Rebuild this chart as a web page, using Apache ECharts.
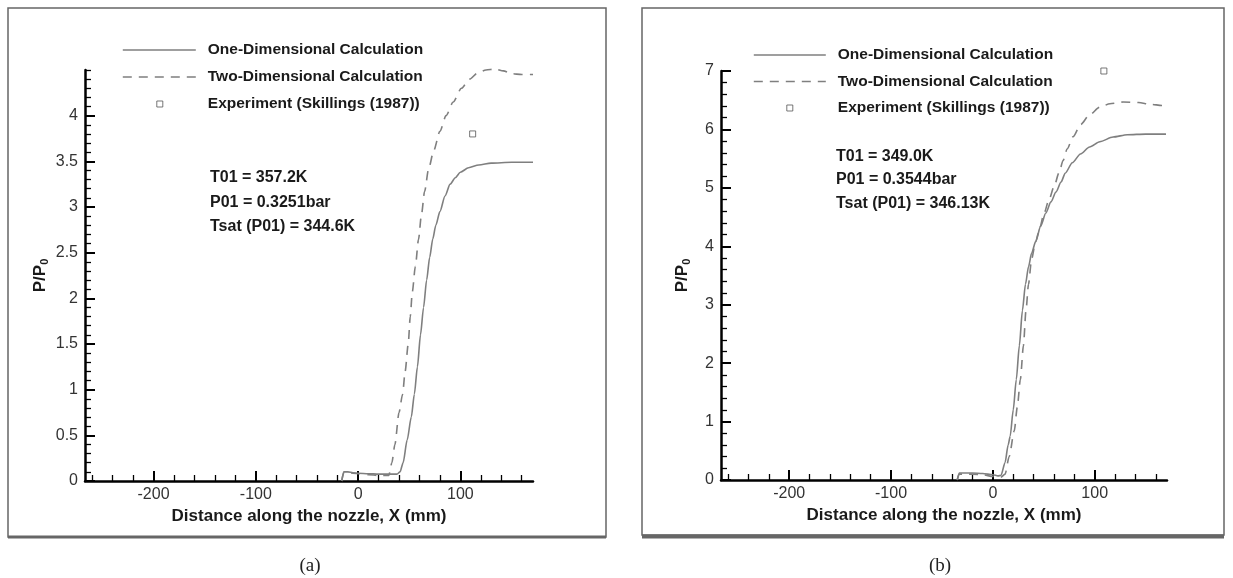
<!DOCTYPE html>
<html><head><meta charset="utf-8">
<script src="https://cdn.jsdelivr.net/npm/echarts@6/dist/echarts.min.js"></script>
<style>html,body{margin:0;padding:0;background:#fff}#c{width:1233px;height:578px}</style>
</head><body><div id="c"></div>
<script>
// ---------- data ----------
const nameOne = 'One-Dimensional Calculation';
const nameTwo = 'Two-Dimensional Calculation';
const nameExp = 'Experiment (Skillings (1987))';

// panel (a)
const xA1 = [-16,-14,-10,-5,0,10,20,30,38,41,44,48,52,55,58,61,64,67,70,73,76,80,85,90,95,100,108,118,130,150,171];
const yA1 = [0,0.1,0.1,0.09,0.085,0.08,0.075,0.075,0.075,0.1,0.2,0.45,0.7,0.95,1.25,1.6,1.9,2.2,2.45,2.65,2.8,2.95,3.12,3.25,3.32,3.38,3.43,3.46,3.48,3.49,3.49];
const xA2 = [-16,-14,-10,0,10,20,28,30,33,36,40,43.5,46,49,51,53,56,59,62,65,69,74,80,86,93,101,109,117,125,134,142,150,160,171];
const yA2 = [0,0.09,0.09,0.08,0.07,0.06,0.06,0.06,0.2,0.4,0.75,0.95,1.2,1.5,1.8,2.07,2.35,2.64,2.92,3.17,3.42,3.62,3.83,4.0,4.15,4.3,4.4,4.47,4.5,4.51,4.49,4.46,4.45,4.45];
const expAx = [112];
const expAy = [3.8];

// panel (b)
const xB1 = [-35,-33,-20,-10,0,5,8,12,15,17,20,23,26,29,32,35,38,42,47,52,57,62,67,71,78,86,95,105,118,132,150,170];
const yB1 = [0,0.12,0.12,0.11,0.09,0.07,0.08,0.3,0.6,0.75,1.2,1.72,2.3,2.9,3.35,3.65,3.88,4.08,4.35,4.57,4.76,4.93,5.1,5.25,5.43,5.58,5.7,5.79,5.87,5.91,5.92,5.92];
const xB2 = [-35,-33,-20,-10,0,8,12,16,21,24,27,30,32.5,35,38,42,46,50,55,60,65,69,73,79,86,95,105,115,128,143,155,166,170];
const yB2 = [0,0.1,0.1,0.09,0.06,0.05,0.1,0.4,0.84,1.25,1.72,2.3,2.9,3.35,3.78,4.08,4.31,4.55,4.79,5.02,5.26,5.47,5.67,5.88,6.08,6.25,6.38,6.44,6.47,6.46,6.43,6.41,6.41];
const expBx = [109];
const expBy = [7.0];

// axes / ticks
const xRange = [-267, 171];
const xTicksMajor = [-200, -100, 0, 100];
const xTicksMinor = [-260,-240,-220,-180,-160,-140,-120,-80,-60,-40,-20,20,40,60,80,120,140,160];
const yRangeA = [0, 4.5];
const yTicksMajorA = [0, 0.5, 1, 1.5, 2, 2.5, 3, 3.5, 4];
const yRangeB = [0, 7];
const yTicksMajorB = [0, 1, 2, 3, 4, 5, 6, 7];
const yMinorStepA = 0.1;
const yMinorStepB = 0.2;

const annotA = ['T01 = 357.2K', 'P01 = 0.3251bar', 'Tsat (P01) = 344.6K'];
const annotB = ['T01 = 349.0K', 'P01 = 0.3544bar', 'Tsat (P01) = 346.13K'];
const xTitle = 'Distance along the nozzle, X (mm)';
const yTitle = 'P/P{s|0}';
const captions = ['(a)', '(b)'];

// ---------- helpers ----------
function minorTicks(range, step, majors) {
  const out = [];
  const n = Math.round((range[1] - range[0]) / step);
  for (let i = 0; i <= n; i++) {
    const v = +(range[0] + i * step).toFixed(4);
    if (!majors.some(m => Math.abs(m - v) < 1e-6)) out.push(v);
  }
  return out;
}
const yTicksMinorA = minorTicks(yRangeA, yMinorStepA, yTicksMajorA);
const yTicksMinorB = minorTicks(yRangeB, yMinorStepB, yTicksMajorB);
const zip = (xs, ys) => xs.map((x, i) => [x, ys[i]]);

const FONT = 'Liberation Sans';
const CURVE = '#7f7f7f';
const DASH = [9, 7];

function xAxes(grid) {
  return [{
    type: 'value', gridIndex: grid, position: 'bottom', min: xRange[0], max: xRange[1],
    name: xTitle, nameLocation: 'middle', nameGap: 23,
    nameTextStyle: {fontFamily: FONT, fontWeight: 'bold', fontSize: 17, color: '#1a1a1a'},
    axisLine: {show: true, onZero: false, lineStyle: {color: '#000', width: 2.5}},
    axisTick: {show: true, inside: true, length: 10, customValues: xTicksMajor, lineStyle: {color: '#000', width: 2}},
    axisLabel: {show: true, margin: 6, customValues: xTicksMajor, fontFamily: FONT, fontSize: 16, color: '#333'},
    splitLine: {show: false}
  }, {
    type: 'value', gridIndex: grid, position: 'bottom', min: xRange[0], max: xRange[1],
    axisLine: {show: false, onZero: false},
    axisTick: {show: true, inside: true, length: 6, customValues: xTicksMinor, lineStyle: {color: '#000', width: 1.3}},
    axisLabel: {show: false}, splitLine: {show: false}
  }];
}
function yAxes(grid, range, majors, minors, gap) {
  return [{
    type: 'value', gridIndex: grid, position: 'left', min: range[0], max: range[1],
    name: yTitle, nameLocation: 'middle', nameGap: gap,
    nameTextStyle: {fontFamily: FONT, fontWeight: 'bold', fontSize: 17, color: '#1a1a1a',
      rich: {s: {fontFamily: FONT, fontWeight: 'bold', fontSize: 11, color: '#1a1a1a', padding: [9, 0, 0, 0]}}},
    axisLine: {show: true, onZero: false, lineStyle: {color: '#000', width: 2.5}},
    axisTick: {show: true, inside: true, length: 10, customValues: majors, lineStyle: {color: '#000', width: 2}},
    axisLabel: {show: true, margin: 7, customValues: majors, fontFamily: FONT, fontSize: 16, color: '#333'},
    splitLine: {show: false}
  }, {
    type: 'value', gridIndex: grid, position: 'left', min: range[0], max: range[1],
    axisLine: {show: false, onZero: false},
    axisTick: {show: true, inside: true, length: 6, customValues: minors, lineStyle: {color: '#000', width: 1.3}},
    axisLabel: {show: false}, splitLine: {show: false}
  }];
}
function seriesFor(xi, yi, d1, d2, de) {
  return [{
    type: 'line', name: nameOne, xAxisIndex: xi, yAxisIndex: yi, data: d1,
    symbol: 'none', smooth: 0.25, smoothMonotone: 'x', clip: false,
    lineStyle: {color: CURVE, width: 1.6}, itemStyle: {color: CURVE}
  }, {
    type: 'line', name: nameTwo, xAxisIndex: xi, yAxisIndex: yi, data: d2,
    symbol: 'none', smooth: 0.25, smoothMonotone: 'x', clip: false,
    lineStyle: {color: CURVE, width: 1.6, type: DASH}, itemStyle: {color: CURVE}
  }, {
    type: 'scatter', name: nameExp, xAxisIndex: xi, yAxisIndex: yi, data: de,
    symbol: 'rect', symbolSize: 6, clip: false,
    itemStyle: {color: '#fff', borderColor: '#555', borderWidth: 1}
  }];
}
function legendFor(left, top, w, gap) {
  const c = Math.round(w / 2) - 3;
  return {
    left: left, top: top, orient: 'vertical', padding: 0, selectedMode: false,
    itemWidth: w, itemHeight: 14, itemGap: gap,
    lineStyle: {width: 1.6},
    textStyle: {fontFamily: FONT, fontWeight: 'bold', fontSize: 15.5, color: '#1a1a1a', padding: [0, 0, 0, 7]},
    data: [
      {name: nameOne, itemStyle: {opacity: 0}},
      {name: nameTwo, itemStyle: {opacity: 0}},
      {name: nameExp, icon: 'path://M0,0M' + w + ',14M' + c + ',4h6v6h-6z',
       itemStyle: {color: '#fff', borderColor: '#555', borderWidth: 1}}
    ]
  };
}
function annot(x, ys, lines) {
  return lines.map((t, i) => ({
    type: 'text', x: x, y: ys[i], silent: true,
    style: {text: t, font: 'bold 16px "Liberation Sans"', fill: '#1a1a1a', align: 'left', verticalAlign: 'middle'}
  }));
}

const chart = echarts.init(document.getElementById('c'), null, {renderer: 'canvas'});
chart.setOption({
  animation: false,
  backgroundColor: '#fff',
  grid: [
    {left: 85, top: 70, width: 448, height: 411},
    {left: 721, top: 71, width: 446, height: 409}
  ],
  xAxis: [...xAxes(0), ...xAxes(1)],
  yAxis: [...yAxes(0, yRangeA, yTicksMajorA, yTicksMinorA, 35), ...yAxes(1, yRangeB, yTicksMajorB, yTicksMinorB, 29)],
  legend: [legendFor(122, 42, 73, 11), legendFor(753, 47, 72, 10.5)],
  series: [
    ...seriesFor(0, 0, zip(xA1, yA1), zip(xA2, yA2), zip(expAx, expAy)),
    ...seriesFor(2, 2, zip(xB1, yB1), zip(xB2, yB2), zip(expBx, expBy))
  ],
  graphic: [
    {type: 'rect', silent: true, shape: {x: 8, y: 8, width: 598, height: 529}, style: {fill: 'none', stroke: '#666', lineWidth: 1.5}},
    {type: 'line', silent: true, shape: {x1: 8, y1: 537, x2: 606, y2: 537}, style: {stroke: '#666', lineWidth: 3}},
    {type: 'rect', silent: true, shape: {x: 642, y: 8, width: 582, height: 527}, style: {fill: 'none', stroke: '#666', lineWidth: 1.5}},
    {type: 'line', silent: true, shape: {x1: 642, y1: 536.5, x2: 1224, y2: 536.5}, style: {stroke: '#666', lineWidth: 4}},
    ...annot(210, [178, 202.5, 226.2], annotA),
    ...annot(836, [157, 179.4, 203.9], annotB),
    {type: 'text', x: 310, y: 566, silent: true, style: {text: captions[0], font: '19px "Liberation Serif"', fill: '#222', align: 'center', verticalAlign: 'middle'}},
    {type: 'text', x: 940, y: 566, silent: true, style: {text: captions[1], font: '19px "Liberation Serif"', fill: '#222', align: 'center', verticalAlign: 'middle'}}
  ]
});
</script>
</body></html>
